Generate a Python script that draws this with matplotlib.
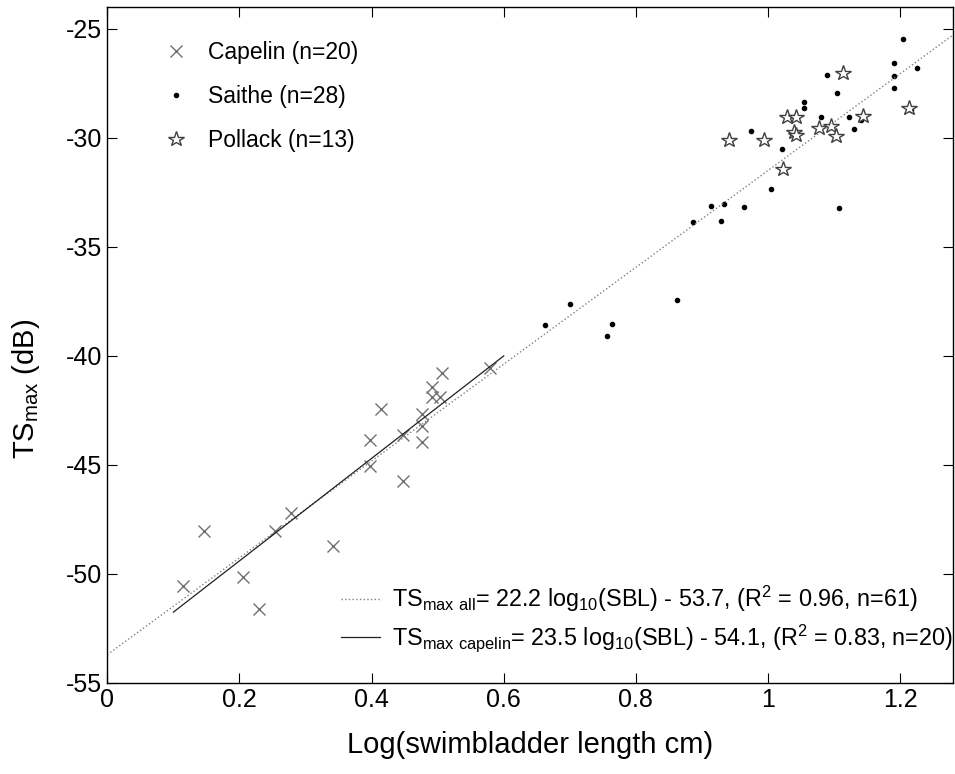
import matplotlib
matplotlib.use('Agg')
import matplotlib.pyplot as plt
import numpy as np

plt.rcParams['font.family'] = ['Liberation Sans', 'DejaVu Sans']
plt.rcParams['mathtext.fontset'] = 'custom'
plt.rcParams['mathtext.rm'] = 'Liberation Sans'
plt.rcParams['mathtext.default'] = 'regular'
plt.rcParams['axes.unicode_minus'] = False

# data (log10 swimbladder length, TSmax dB)
capelin_x = [0.114, 0.146, 0.205, 0.229, 0.254, 0.278, 0.341, 0.397, 0.397, 0.414,
             0.447, 0.447, 0.477, 0.477, 0.477, 0.492, 0.492, 0.504, 0.506, 0.579]
capelin_y = [-50.55, -48.05, -50.12, -51.6, -48.05, -47.21, -48.74, -43.85, -45.07, -42.42,
             -43.61, -45.73, -42.65, -43.23, -43.95, -41.43, -41.88, -41.88, -40.78, -40.55]

saithe_x = [0.663, 0.700, 0.756, 0.764, 0.863, 0.887, 0.914, 0.929, 0.934, 0.964,
            0.974, 1.004, 1.021, 1.054, 1.054, 1.080, 1.090, 1.104, 1.108, 1.123,
            1.130, 1.141, 1.191, 1.191, 1.191, 1.205, 1.216, 1.226]
saithe_y = [-38.60, -37.62, -39.10, -38.53, -37.45, -33.85, -33.13, -33.80, -33.04, -33.16,
            -29.69, -32.37, -30.53, -28.36, -28.64, -29.05, -27.13, -27.93, -33.21, -29.03,
            -29.58, -29.19, -26.55, -27.17, -27.70, -25.49, -28.73, -26.81]

pollack_x = [0.941, 0.994, 1.023, 1.028, 1.040, 1.042, 1.042, 1.077, 1.095, 1.103,
             1.113, 1.144, 1.214]
pollack_y = [-30.12, -30.12, -31.45, -29.05, -29.74, -29.85, -29.05, -29.53, -29.46, -29.92,
             -27.04, -29.0, -28.62]

# regression fits: slope, intercept, x range
fit_all = (22.2, -53.7, 0.0, 1.28)
fit_capelin = (23.5, -54.1, 0.1, 0.6)

fig = plt.figure(figsize=(9.55, 7.74), dpi=100)
ax = fig.add_axes([0.1124, 0.1176, 0.8855, 0.8734])

h1, = ax.plot(capelin_x, capelin_y, 'x', color='#707070', ms=8, mew=1.0, ls='none')
h2, = ax.plot(saithe_x, saithe_y, '.', color='black', ms=6, ls='none')
h3, = ax.plot(pollack_x, pollack_y, '*', mfc='white', mec='#404040', ms=11.5, mew=1.0, ls='none')

xa = np.linspace(fit_all[2], fit_all[3], 50)
l1, = ax.plot(xa, fit_all[0] * xa + fit_all[1], ':', color='#808080', lw=1.0)
xc = np.linspace(fit_capelin[2], fit_capelin[3], 50)
l2, = ax.plot(xc, fit_capelin[0] * xc + fit_capelin[1], '-', color='#202020', lw=0.9)

leg1 = ax.legend([h1, h2, h3], ['Capelin (n=20)', 'Saithe (n=28)', 'Pollack (n=13)'],
                 loc='upper left', bbox_to_anchor=(0.054, 0.95), frameon=False,
                 fontsize=16.5, borderpad=0, borderaxespad=0, handletextpad=0.42,
                 labelspacing=0.92, numpoints=1)
ax.add_artist(leg1)

lab_all = r'TS$_{max\ all}$= 22.2 log$_{10}$(SBL) - 53.7, (R$^{2}$ = 0.96, n=61)'
lab_cap = r'TS$_{max\ capelin}$= 23.5 log$_{10}$(SBL) - 54.1, (R$^{2}$ = 0.83, n=20)'
ax.legend([l1, l2], [lab_all, lab_cap], loc='lower right', bbox_to_anchor=(1.0, 0.043),
          frameon=False, fontsize=16.8, borderpad=0, borderaxespad=0, handlelength=1.67,
          handletextpad=0.5, labelspacing=0.35)

ax.set_xlim(0, 1.28)
ax.set_ylim(-55, -24)
ax.set_xticks([0, 0.2, 0.4, 0.6, 0.8, 1.0, 1.2])
ax.set_xticklabels(['0', '0.2', '0.4', '0.6', '0.8', '1', '1.2'])
ax.set_yticks([-55, -50, -45, -40, -35, -30, -25])
ax.tick_params(direction='in', length=7, top=True, right=True, labelsize=18)
for s in ax.spines.values():
    s.set_linewidth(1.0)

ax.set_xlabel('Log(swimbladder length cm)', fontsize=21, labelpad=14)
ax.set_ylabel(r'TS$_{max}$ (dB)', fontsize=21)
ax.yaxis.set_label_coords(-0.077, 0.435)

fig.savefig('out.png', dpi=100)
